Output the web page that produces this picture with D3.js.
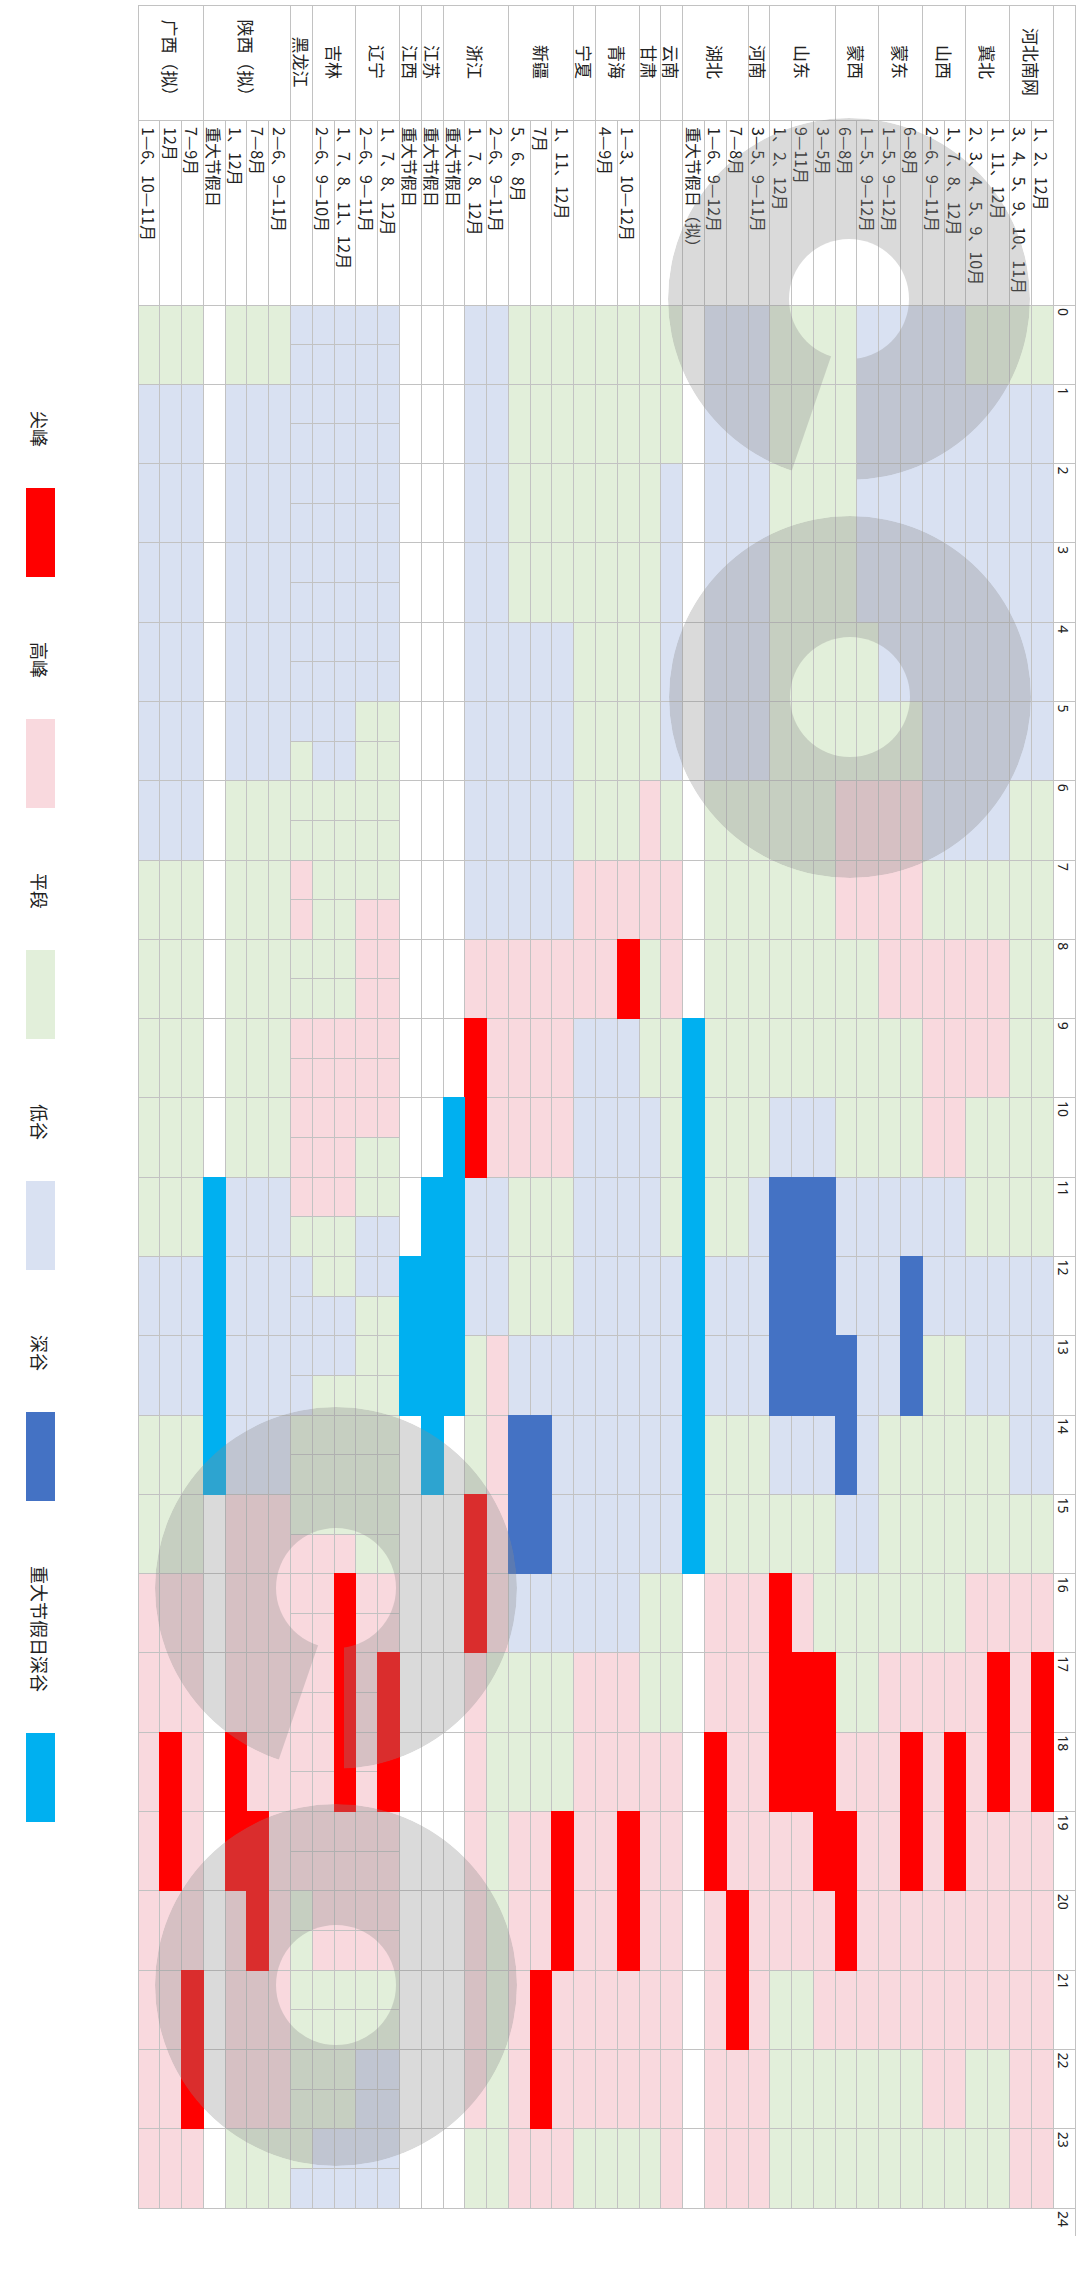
<!DOCTYPE html>
<html><head><meta charset="utf-8">
<script src="https://cdn.jsdelivr.net/npm/d3@7"></script>
<style>
html,body{margin:0;padding:0;background:#fff;}
svg{display:block;}
</style></head>
<body>
<svg id="chart" width="1080" height="2272"></svg>
<script>
// ---------------- data ----------------
const provinceNames = ["河北南网","冀北","山西","蒙东","蒙西","山东","河南","湖北","云南","甘肃","青海","宁夏","新疆","浙江","江苏","江西","辽宁","吉林","黑龙江","陕西（拟）","广西（拟）"];
const provinceSpans = [2,2,2,2,2,3,1,3,1,1,2,1,3,3,1,1,2,2,1,4,3];
const monthLabels = [
  "1、2、12月","3、4、5、9、10、11月",
  "1、11、12月","2、3、4、5、9、10月",
  "1、7、8、12月","2—6、9—11月",
  "6—8月","1—5、9—12月",
  "1—5、9—12月","6—8月",
  "3—5月","9—11月","1、2、12月",
  "3—5、9—11月",
  "7—8月","1—6、9—12月","重大节假日（拟）",
  "",
  "",
  "1—3、10—12月","4—9月",
  "",
  "1、11、12月","7月","5、6、8月",
  "2—6、9—11月","1、7、8、12月","重大节假日",
  "重大节假日",
  "重大节假日",
  "1、7、8、12月","2—6、9—11月",
  "1、7、8、11、12月","2—6、9—10月",
  "",
  "2—6、9—11月","7—8月","1、12月","重大节假日",
  "7—9月","12月","1—6、10—11月"
];
// J=尖峰 G=高峰 P=平段 D=低谷 S=深谷 H=重大节假日深谷 W=空白 ; 24 chars = hourly, 48 chars = half-hourly
const periodCodes = [
  "PDDDDDPPPPPPDDDPGJJGGGGG",
  "PDDDDDPPPPPPDDDPGGGGGGGG",
  "PDDDDDDPGGPPDDPPGJJGGGPP",
  "PDDDDDDPGGPPDDPPGGGGGGPP",
  "DDDDDDDPGGGDDPPPPGJJGGGP",
  "DDDDDDDPGGGDDPPPPGGGGGGP",
  "DDDDDPGGGPPDSSPPPGJJGGPP",
  "DDDDDPGGGPPDDDPPPGGGGGPP",
  "DDDDPPGGPPPDDDDDPPGGGGPP",
  "PPPPPPGGPPPDDSSDPPGJJGPP",
  "PPPPPPPPPPDSSSDPPJJJGGPP",
  "PPPPPPPPPPDSSSDPGJJGGPPP",
  "PPPPPPPPPPDSSSDPJJJGGPPP",
  "DDDDDDPPPPPDDDPPGGGGGGGG",
  "DDDDDDPPPPPPDDPPGGGGJJGG",
  "DDDDDDPPPPPPDDPPGGJJGGGG",
  "WWWWWWWWWHHHHHHHWWWWWWWW",
  "PPDDDDPGGPPPDDDDPPGGGGGG",
  "PPPPPPGGPPDDDDDDPPGGGGGP",
  "PPPPPPPGJDDDDDDDDGGJJGGP",
  "PPPPPPPGGDDDDDDDDGGGGGGP",
  "PPPPPPPGGDDDDDDDDGGGGGGP",
  "PPPPDDDDGGGPPDDDDPPJJGGG",
  "PPPPDDDDGGGPPDSSDPPGGJJG",
  "PPPPDDDDGGGPPDSSDPPGGGGG",
  "DDDDDDDDGGGDDGGGGPPPPPPP",
  "DDDDDDDDGJJDDPPJJGGGGGGP",
  "WWWWWWWWWWHHHHWWWWWWWWWW",
  "WWWWWWWWWWWHHHHWWWWWWWWW",
  "WWWWWWWWWWWWHHWWWWWWWWWW",
  "DDDDDDDDDDPPPPPGGGGGGPPDDPPPPPPPGGJJJJGGGGPPDDDD",
  "DDDDDDDDDDPPPPPGGGGGGPPDDPPPPPPPGGGGGGGGGGPPDDDD",
  "DDDDDDDDDDDDPPPPPPGGGGGPPDDPPPPGJJJJJJGGGGPPPPDD",
  "DDDDDDDDDDDDPPPPPPGGGGGPPDDPPPPGGGGGGGGGGGPPPPDD",
  "DDDDDDDDDDDPPPGGPPGGGGGPDDDDPPPGGGGGGGGGPPPPPPPD",
  "PDDDDDPPPPPDDDDGGGGGGGGP",
  "PDDDDDPPPPPDDDDGGGGJJGGP",
  "PDDDDDPPPPPDDDDGGGJJGGGP",
  "WWWWWWWWWWWHHHHWWWWWWWWW",
  "PDDDDDDPPPPPDDPPGGGGGJJG",
  "PDDDDDDPPPPPDDPPGGJJGGGG",
  "PDDDDDDPPPPPDDPPGGGGGGGG"
];
const hourLabels = ["0","1","2","3","4","5","6","7","8","9","10","11","12","13","14","15","16","17","18","19","20","21","22","23","24"];
const legendLabels = ["尖峰","高峰","平段","低谷","深谷","重大节假日深谷"];
const legendCodes = ["J","G","P","D","S","H"];

// ---------------- styles ----------------
const palette = {J:"#ff0000", G:"#f9d9de", P:"#e2efda", D:"#d9e1f2", S:"#4472c4", H:"#00b0f0", W:"#ffffff"};
const strong = new Set(["J","S","H"]);
const lineColor = "#c2c2c2";
const cjk = "'Noto Sans CJK SC','Noto Sans',sans-serif";

// ---------------- layout ----------------
const W = 1080, H = 2272;
const svg = d3.select("#chart");
// original (unrotated) table frame, rotated 90deg clockwise into the page
const g = svg.append("g").attr("transform", `translate(${W},0) rotate(90)`);

const x = d3.scaleLinear().domain([0, 24]).range([305, 2208]);
const y = d3.scaleBand().domain(d3.range(monthLabels.length)).range([27, 942]);
const bw = y.bandwidth();

// cells
const cells = [];
periodCodes.forEach((s, r) => {
  const n = s.length, step = 24 / n;
  for (let i = 0; i < n; i++) cells.push({r, t0: i * step, t1: (i + 1) * step, c: s[i]});
});

const cellG = g.append("g").attr("shape-rendering", "crispEdges");
cellG.selectAll("rect").data(cells).join("rect")
  .attr("x", d => x(d.t0)).attr("y", d => y(d.r))
  .attr("width", d => x(d.t1) - x(d.t0)).attr("height", bw)
  .attr("fill", d => palette[d.c]);

// grid lines
const lines = [];
periodCodes.forEach((s, r) => {
  const n = s.length, step = 24 / n;
  for (let i = 0; i <= n; i++) lines.push([x(i * step), y(r), x(i * step), y(r) + bw]);
});
// group boundaries
const groupStarts = [0];
provinceSpans.forEach(s => groupStarts.push(groupStarts[groupStarts.length - 1] + s));
const groupSet = new Set(groupStarts);
for (let k = 0; k <= monthLabels.length; k++) {
  const yy = 27 + k * bw;
  lines.push([groupSet.has(k) ? 5 : 120, yy, x(24), yy]);
}
// hour ticks in label row
hourLabels.forEach((h, i) => lines.push([x(i), 5, x(i), 27]));
lines.push([5, 5, 2236, 5]);        // outer border (label side)
lines.push([5, 5, 5, 942]);         // header top border
lines.push([120, 27, 120, 942]);    // province | month separator
lines.push([x(0), 5, x(0), 942]);

g.append("g").attr("shape-rendering", "crispEdges")
  .selectAll("line").data(lines).join("line")
  .attr("x1", d => d[0]).attr("y1", d => d[1]).attr("x2", d => d[2]).attr("y2", d => d[3])
  .attr("stroke", lineColor).attr("stroke-width", 1);

// strong colours cover the grid lines
g.append("g").attr("shape-rendering", "crispEdges")
  .selectAll("rect").data(cells.filter(d => strong.has(d.c))).join("rect")
  .attr("x", d => x(d.t0) - 0.5).attr("y", d => y(d.r) - 0.5)
  .attr("width", d => x(d.t1) - x(d.t0) + 1).attr("height", bw + 1)
  .attr("fill", d => palette[d.c]);

// hour labels
g.append("g").selectAll("text").data(hourLabels).join("text")
  .attr("x", (d, i) => x(i) + 3).attr("y", 17)
  .attr("dominant-baseline", "central")
  .attr("font-family", "'Noto Sans','DejaVu Sans',sans-serif").attr("font-size", 14)
  .attr("fill", "#222").text(d => d);

// province labels
g.append("g").selectAll("text").data(provinceNames).join("text")
  .attr("x", 62)
  .attr("y", (d, i) => 27 + (groupStarts[i] + provinceSpans[i] / 2) * bw)
  .attr("text-anchor", "middle").attr("dominant-baseline", "central")
  .attr("font-family", cjk).attr("font-size", 17).attr("fill", "#222")
  .text(d => d);

// month labels
g.append("g").selectAll("text").data(monthLabels).join("text")
  .attr("x", 127).attr("y", (d, i) => y(i) + bw / 2)
  .attr("dominant-baseline", "central")
  .attr("font-family", cjk).attr("font-size", 16).attr("fill", "#222")
  .text(d => d);

// legend (bottom of the original table)
const lg = g.append("g");
let lx = 411;
legendLabels.forEach((lab, i) => {
  const t = lg.append("text").attr("x", lx).attr("y", 1040)
    .attr("dominant-baseline", "central")
    .attr("font-family", cjk).attr("font-size", 18).attr("fill", "#222").text(lab);
  const tw = t.node().getComputedTextLength();
  const bx = lx + tw + 41;
  lg.append("rect").attr("x", bx).attr("y", 1025).attr("width", 89).attr("height", 29)
    .attr("fill", palette[legendCodes[i]]);
  lx = bx + 89 + 65;
});

// watermark rings (page coordinates)
const rings = [
  {cx: 849, cy: 299, slot: true},
  {cx: 850, cy: 697, slot: false},
  {cx: 336, cy: 1588, slot: true},
  {cx: 336, cy: 1985, slot: false}
];
const R = 181, r0 = 60;
const defs = svg.append("defs");
rings.forEach((d, i) => {
  const m = defs.append("mask").attr("id", "wm" + i)
    .attr("maskUnits", "userSpaceOnUse").attr("x", 0).attr("y", 0).attr("width", W).attr("height", H);
  m.append("circle").attr("cx", d.cx).attr("cy", d.cy).attr("r", R).attr("fill", "#fff");
  m.append("circle").attr("cx", d.cx).attr("cy", d.cy).attr("r", r0).attr("fill", "#000");
  if (d.slot) {
    const pts = [[8, 40], [8, 200], [-67, 200], [-12, 40]].map(p => (d.cx + p[0]) + "," + (d.cy + p[1])).join(" ");
    m.append("polygon").attr("points", pts).attr("fill", "#000");
  }
  svg.append("circle").attr("cx", d.cx).attr("cy", d.cy).attr("r", R)
    .attr("fill", "rgb(140,140,140)").attr("fill-opacity", 0.32)
    .attr("mask", `url(#wm${i})`);
});
</script>
</body></html>
